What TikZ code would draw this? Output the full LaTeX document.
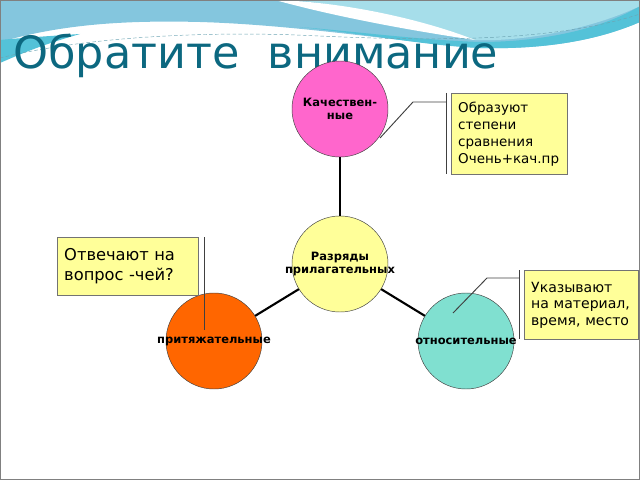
\documentclass[tikz,border=0pt]{standalone}
\usepackage{fontspec}
\setmainfont{DejaVu Sans}
\usetikzlibrary{positioning}
\definecolor{titleteal}{RGB}{12,104,128}
\definecolor{topblue}{RGB}{132,198,222}
\definecolor{toplight}{RGB}{166,222,234}
\definecolor{topcyan}{RGB}{84,194,216}
\definecolor{pinkfill}{RGB}{255,102,204}
\definecolor{notefill}{RGB}{255,255,153}
\definecolor{orangefill}{RGB}{255,102,0}
\definecolor{tealfill}{RGB}{128,224,208}
\begin{document}
\begin{tikzpicture}[x=0.03cm,y=-0.03cm,
  round node/.style={circle,draw=black!75,minimum size=2.88cm,inner sep=0pt},
  round text/.style={inner sep=0pt,align=center,font=\bfseries\fontsize{9.8}{11}\selectfont},
  note box/.style={rectangle,draw=black!55,line width=0.9pt,fill=notefill,anchor=north west,align=left,inner xsep=0.2cm,inner ysep=0pt},
  link/.style={draw=black,line width=1.8pt},
  pointer/.style={draw=black!75,line width=0.8pt}]
\useasboundingbox (0,0) rectangle (640,480);
% top wave
\fill[topblue] (0,0) -- (640,0) -- (640,22) .. controls (610,35) and (560,50) .. (480,48) .. controls (400,42) and (300,25) .. (200,22) .. controls (120,20) and (60,25) .. (0,42) -- cycle;
\fill[topcyan] (0,40) -- (0,63) .. controls (25,52) and (45,44) .. (80,34) .. controls (50,36) and (20,38) .. (0,40) -- cycle;
\fill[topcyan] (300,27) .. controls (380,36) and (430,46) .. (480,48) .. controls (560,50) and (610,35) .. (640,22) -- (640,6) .. controls (600,30) and (540,42) .. (480,42) .. controls (420,40) and (360,32) .. (300,27) -- cycle;
\fill[toplight] (290,0) -- (640,0) -- (640,6) .. controls (590,30) and (520,42) .. (475,40) .. controls (420,25) and (350,4) .. (290,0) -- cycle;
\fill[white] (275,0) .. controls (350,2) and (430,22) .. (475,40) .. controls (420,32) and (340,18) .. (275,0) -- cycle;
\draw[titleteal!60,densely dashed,line width=0.4pt] (0,58) .. controls (80,38) and (200,30) .. (320,36) .. controls (450,42) and (560,40) .. (640,14);
\node[anchor=base west,text=titleteal,inner sep=0pt,font=\fontsize{38}{44}\selectfont] (title) at (13,69) {Обратите\ \ внимание};
\begin{scope}
\node[round node,fill=pinkfill] (qual) at (340,109) {};
\node[round node,fill=notefill] (kinds) at (340,264) {};
\node[round node,fill=orangefill] (poss) at (214,341) {};
\node[round node,fill=tealfill] (rel) at (466,341) {};
\end{scope}
\begin{scope}[every path/.style={link}]
\draw (qual) -- (kinds);
\draw (kinds) -- (poss);
\draw (kinds) -- (rel);
\end{scope}
\node[round text] (qualtext) at (qual.center) {Качествен-\\ные};
\node[round text] (kindstext) at (kinds.center) {Разряды\\прилагательных};
\node[round text] (posstext) at (poss.center) {притяжательные};
\node[round text] (reltext) at (rel.center) {относительные};
% notes
\node[note box,text width=3.08cm,minimum height=2.43cm,font=\fontsize{11.5}{14.5}\selectfont] (noteq) at (451,93) {Образуют\\степени\\сравнения\\Очень+кач.пр};
\node[note box,text width=3.83cm,minimum height=1.74cm,font=\fontsize{13.9}{17}\selectfont] (notep) at (57,237) {Отвечают на\\вопрос -чей?};
\node[note box,text width=3.02cm,minimum height=2.07cm,font=\fontsize{12}{14}\selectfont] (noter) at (524,270) {Указывают\\на материал,\\время, место};
\coordinate (q1) at (446,93);
\coordinate (q2) at (446,174);
\coordinate (q3) at (446,102);
\coordinate (q4) at (413,102);
\coordinate (q5) at (380,138);
\coordinate (p1) at (204,237);
\coordinate (p2) at (204,330);
\coordinate (r1) at (519,270);
\coordinate (r2) at (519,339);
\coordinate (r3) at (519,278);
\coordinate (r4) at (487,278);
\coordinate (r5) at (453,313);
\draw[pointer] (q1) -- (q2);
\draw[pointer] (q3) -- (q4) -- (q5);
\draw[pointer] (p1) -- (p2);
\draw[pointer] (r1) -- (r2);
\draw[pointer] (r3) -- (r4) -- (r5);
\draw[gray,line width=0.8pt] (0.6,0.6) rectangle (639.4,479.4);
\end{tikzpicture}
\end{document}
